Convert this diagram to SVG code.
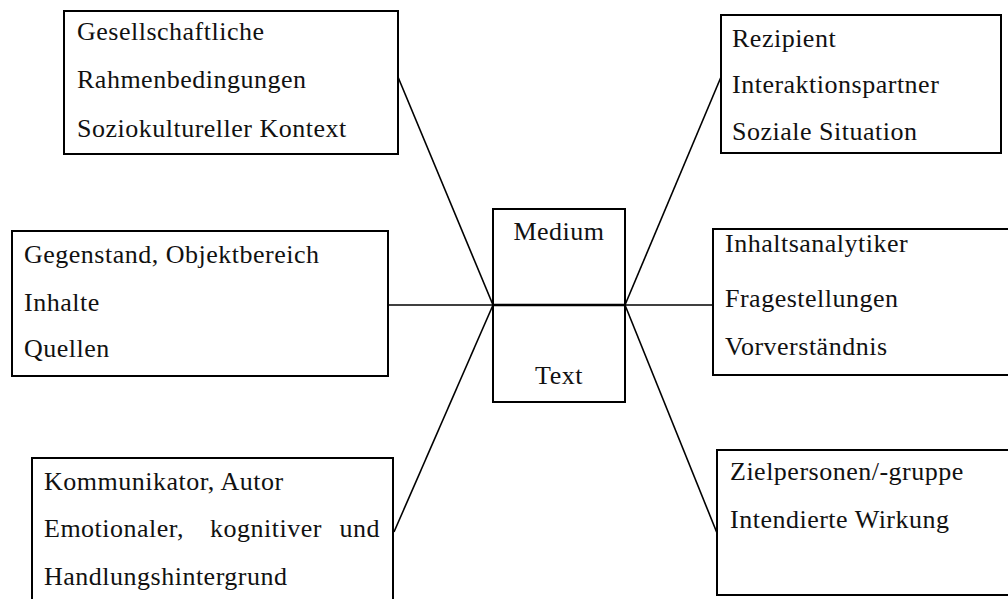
<svg xmlns="http://www.w3.org/2000/svg" width="1008" height="599" viewBox="0 0 1008 599">
<style>
.box{fill:#fff;stroke:#000;stroke-width:2}
.t{font-family:'Liberation Serif','DejaVu Serif','Times New Roman',serif;font-size:26px;letter-spacing:0.5px;fill:#111}
.c{stroke:#000;stroke-width:1.6;fill:none}
</style>
<rect width="1008" height="599" fill="#fff"/>
<g id="connectors">
<line class="c" x1="398" y1="77" x2="493" y2="305"/>
<line class="c" x1="388" y1="305" x2="493" y2="305"/>
<line class="c" x1="394" y1="532" x2="493" y2="305"/>
<line class="c" x1="721" y1="77" x2="625" y2="305"/>
<line class="c" x1="625" y1="305" x2="713" y2="305"/>
<line class="c" x1="625" y1="305" x2="717" y2="533"/>
</g>
<g id="center">
<rect class="box" x="493" y="209" width="132" height="193"/>
<line x1="493" y1="305" x2="625" y2="305" stroke="#000" stroke-width="2.5"/>
<text class="t" x="559" y="240" text-anchor="middle">Medium</text>
<text class="t" x="559" y="384" text-anchor="middle">Text</text>
</g>
<g id="gesellschaft">
<rect class="box" x="64" y="11" width="334" height="143"/>
<text class="t" x="77" y="40">Gesellschaftliche</text>
<text class="t" x="77" y="88">Rahmenbedingungen</text>
<text class="t" x="77" y="137">Soziokultureller Kontext</text>
</g>
<g id="gegenstand">
<rect class="box" x="12" y="231" width="376" height="145"/>
<text class="t" x="24" y="263">Gegenstand, Objektbereich</text>
<text class="t" x="24" y="311">Inhalte</text>
<text class="t" x="24" y="357">Quellen</text>
</g>
<g id="kommunikator">
<rect class="box" x="32" y="458" width="361" height="150"/>
<text class="t" x="44" y="490">Kommunikator, Autor</text>
<text class="t" x="44" y="537">Emotionaler,</text>
<text class="t" x="210" y="537">kognitiver</text>
<text class="t" x="380" y="537" text-anchor="end">und</text>
<text class="t" x="44" y="585">Handlungshintergrund</text>
</g>
<g id="rezipient">
<rect class="box" x="721" y="15" width="280" height="138"/>
<text class="t" x="732" y="47">Rezipient</text>
<text class="t" x="732" y="93">Interaktionspartner</text>
<text class="t" x="732" y="140">Soziale Situation</text>
</g>
<g id="inhaltsanalytiker">
<rect class="box" x="713" y="229" width="305" height="146"/>
<text class="t" x="725" y="252">Inhaltsanalytiker</text>
<text class="t" x="725" y="307">Fragestellungen</text>
<text class="t" x="725" y="355">Vorverständnis</text>
</g>
<g id="zielpersonen">
<rect class="box" x="717" y="450" width="301" height="145"/>
<text class="t" x="730" y="480">Zielpersonen/-gruppe</text>
<text class="t" x="730" y="528">Intendierte Wirkung</text>
</g>
</svg>
